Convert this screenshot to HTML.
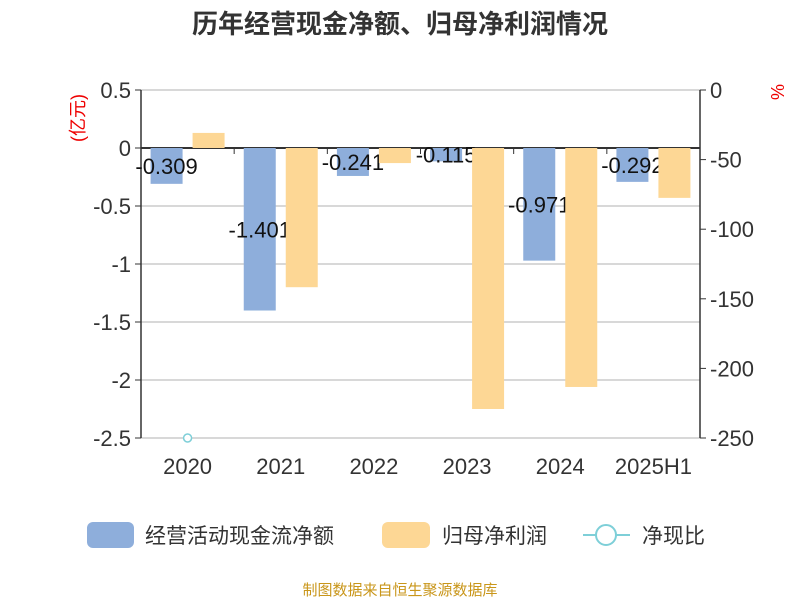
<!DOCTYPE html>
<html><head><meta charset="utf-8"><style>
body{margin:0;background:#fff;font-family:"Liberation Sans","Noto Sans CJK SC",sans-serif}
</style></head><body>
<svg width="800" height="600" viewBox="0 0 800 600" xmlns="http://www.w3.org/2000/svg" font-family="Liberation Sans, Noto Sans CJK SC, sans-serif">
<text x="400" y="33" text-anchor="middle" font-size="26" font-weight="bold" fill="#333">历年经营现金净额、归母净利润情况</text>
<text transform="translate(84,118) rotate(-90)" text-anchor="middle" font-size="18" fill="#e00">(亿元)</text>
<text transform="translate(771,92) rotate(90)" text-anchor="middle" font-size="18" fill="#e00">%</text>
<g id="grid"></g><g id="axes"></g><g id="bars1"></g><g id="labels"></g><g id="bars2"></g><g id="points"></g>
<g>
<rect x="87" y="522" width="47" height="26" rx="6" fill="#8eaedb"/>
<text x="145" y="543" font-size="21" fill="#333">经营活动现金流净额</text>
<rect x="382" y="522" width="48" height="26" rx="6" fill="#fdd795"/>
<text x="442" y="543" font-size="21" fill="#333">归母净利润</text>
<line x1="583" y1="535" x2="630" y2="535" stroke="#7ecfd8" stroke-width="2"/>
<circle cx="606" cy="535" r="10" fill="#fff" stroke="#7ecfd8" stroke-width="2"/>
<text x="642" y="543" font-size="21" fill="#333">净现比</text>
</g>
<text x="400" y="595" text-anchor="middle" font-size="15" fill="#c9961a">制图数据来自恒生聚源数据库</text>
</svg>
<script>
const categories=["2020","2021","2022","2023","2024","2025H1"];
const cashflow=[-0.309,-1.401,-0.241,-0.115,-0.971,-0.292];
const profit=[0.13,-1.20,-0.13,-2.25,-2.06,-0.43];
const ratio=[-250,null,null,null,null,null];
const leftTicks=[0.5,0,-0.5,-1,-1.5,-2,-2.5];
const rightTicks=[0,-50,-100,-150,-200,-250];
const NS="http://www.w3.org/2000/svg";
const X0=141,X1=700,Y0=90,Y1=438;
const yL=v=>Y0+(0.5-v)/3*(Y1-Y0);
const yR=v=>Y0+(0-v)/250*(Y1-Y0);
const bw=(X1-X0)/categories.length;
const xc=i=>X0+bw*(i+0.5);
function mk(p,t,a){const e=document.createElementNS(NS,t);for(const k in a)e.setAttribute(k,a[k]);document.getElementById(p).appendChild(e);return e;}
leftTicks.forEach(v=>{
 const g=mk("grid","line",{x1:X0,x2:X1,y1:yL(v),y2:yL(v),stroke:v===0?"#333":"#ccc","stroke-width":v===0?2:1.5});
 
 
 mk("axes","line",{x1:X0-6,x2:X0,y1:yL(v),y2:yL(v),stroke:"#333"});
 const t=mk("axes","text",{x:X0-10,y:yL(v)+8,"text-anchor":"end","font-size":22,fill:"#333"});
 t.textContent=String(v);
 
 
});
rightTicks.forEach(v=>{
 mk("axes","line",{x1:X1,x2:X1+6,y1:yR(v),y2:yR(v),stroke:"#333"});
 const t=mk("axes","text",{x:X1+10,y:yR(v)+8,"font-size":22,fill:"#333"});
 t.textContent=String(v);
 
 
});
mk("axes","line",{x1:X0,x2:X0,y1:Y0,y2:Y1,stroke:"#333","stroke-width":1.5});
mk("axes","line",{x1:X1,x2:X1,y1:Y0,y2:Y1,stroke:"#333","stroke-width":1.5});
for(let i=0;i<=categories.length;i++) mk("axes","line",{x1:X0+bw*i,x2:X0+bw*i,y1:yL(0),y2:yL(0)+6,stroke:"#333"});
categories.forEach((c,i)=>{
 const t=mk("axes","text",{x:xc(i),y:474,"text-anchor":"middle","font-size":22,fill:"#333"});
 t.textContent=c;
 
 
 const a=cashflow[i],y0=yL(0),ya=yL(a);
 const b=mk("bars1","rect",{x:xc(i)-37,y:Math.min(y0,ya),width:32,height:Math.abs(ya-y0),fill:"#8eaedb"});
 
 
 const l=mk("labels","text",{x:xc(i)-21,y:(y0+ya)/2+8,"text-anchor":"middle","font-size":22,fill:"#111"});
 l.textContent=a.toFixed(3);
 
 
 const p=profit[i],yp=yL(p);
 const r=mk("bars2","rect",{x:xc(i)+5,y:Math.min(y0,yp),width:32,height:Math.abs(yp-y0),fill:"#fdd795"});
 
 
 if(ratio[i]!==null){
  const pt=mk("points","circle",{cx:xc(i),cy:yR(ratio[i]),r:4,fill:"#fff",stroke:"#7ecfd8","stroke-width":1.5});
  
  
 }
});
</script>
</body></html>
